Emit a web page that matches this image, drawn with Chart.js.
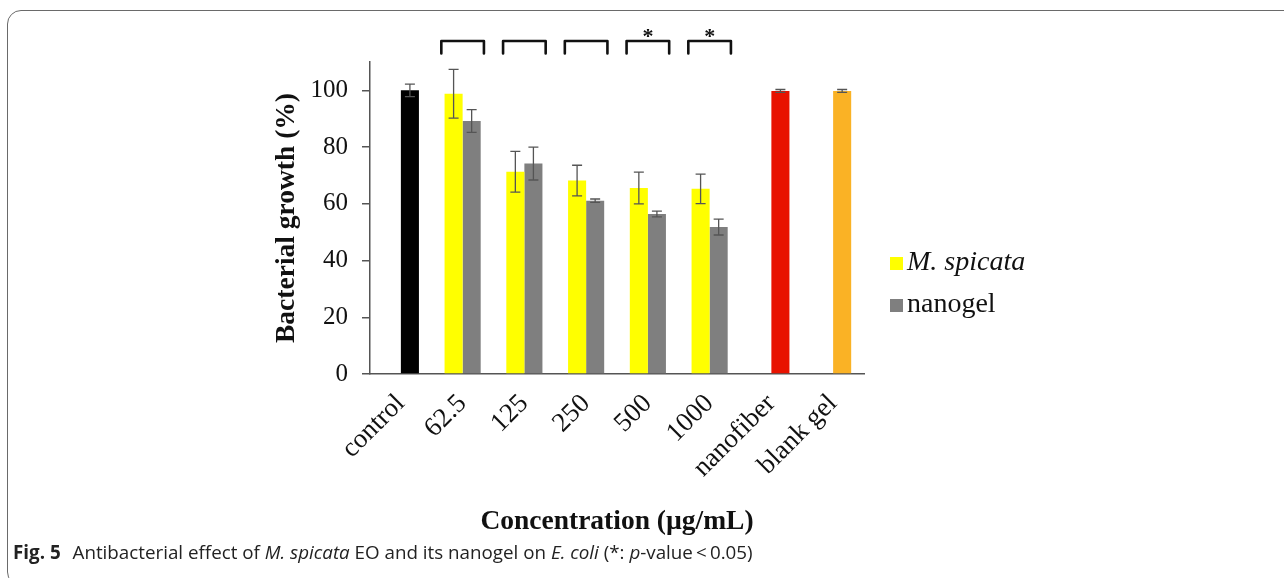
<!DOCTYPE html>
<html>
<head>
<meta charset="utf-8">
<script src="https://cdn.jsdelivr.net/npm/chart.js@4.4.1/dist/chart.umd.min.js"></script>
<style>
  html, body { margin:0; padding:0; background:#fff; }
  #wrap { position:relative; width:1284px; height:578px; overflow:hidden; }
  #frame { position:absolute; left:7px; top:10px; width:1400px; height:576px; border:1.5px solid #6a6a6a; border-radius:14px; box-sizing:border-box; }
  canvas { position:absolute; left:0; top:0; }
  #caption { position:absolute; left:13px; top:539px; font-family:'Open Sans', 'Noto Sans', sans-serif; font-size:18.8px; color:#222; white-space:nowrap; letter-spacing:0px; }
  #caption b { font-weight:700; margin-right:7px; }
</style>
</head>
<body>
<div id="wrap">
  <div id="frame"></div>
  <canvas id="c" width="1284" height="578"></canvas>
  <div id="caption"><b>Fig. 5</b> Antibacterial effect of <i>M. spicata</i> EO and its nanogel on <i>E. coli</i> (*: <i>p</i>-value&thinsp;&lt;&thinsp;0.05)</div>
</div>
<script>
const categories = ['control', '62.5', '125', '250', '500', '1000', 'nanofiber', 'blank gel'];
const spicataValues = [null, 98.8, 71.3, 68.2, 65.6, 65.3, null, null];
const spicataErrors = [null, 8.6, 7.2, 5.4, 5.6, 5.2, null, null];
const nanogelValues = [100, 89.2, 74.2, 61.1, 56.4, 51.8, 99.8, 99.8];
const nanogelErrors = [2.2, 4.0, 5.8, 0.6, 1.0, 2.8, 0.5, 0.5];
const nanogelColors = ['#000000', '#7f7f7f', '#7f7f7f', '#7f7f7f', '#7f7f7f', '#7f7f7f', '#e81200', '#fab225'];
const yTicks = [0, 20, 40, 60, 80, 100];
const bracketCats = [1, 2, 3, 4, 5];
const bracketStars = ['', '', '', '*', '*'];
const bracketTopValue = 117.4;
const bracketLegValue = 113.0;
const starValue = 120.0;

const SERIF = "'Liberation Serif', 'Times New Roman', serif";

const errorBars = {
  id: 'errorBars',
  afterDatasetsDraw(chart) {
    const ctx = chart.ctx, ys = chart.scales.y;
    const errs = [spicataErrors, nanogelErrors];
    chart.data.datasets.forEach((ds, i) => {
      const meta = chart.getDatasetMeta(i);
      meta.data.forEach((bar, j) => {
        const v = ds.data[j];
        if (v == null) return;
        const e = errs[i][j];
        const yt = ys.getPixelForValue(v + e), yb = ys.getPixelForValue(v - e);
        ctx.save();
        ctx.strokeStyle = '#555555';
        ctx.lineWidth = 1.3;
        ctx.beginPath();
        ctx.moveTo(bar.x, yt); ctx.lineTo(bar.x, yb);
        ctx.moveTo(bar.x - 5, yt); ctx.lineTo(bar.x + 5, yt);
        ctx.moveTo(bar.x - 5, yb); ctx.lineTo(bar.x + 5, yb);
        ctx.stroke();
        ctx.restore();
      });
    });
  }
};

const brackets = {
  id: 'brackets',
  afterDraw(chart) {
    const ctx = chart.ctx, xs = chart.scales.x, ys = chart.scales.y;
    const catW = (xs.right - xs.left) / categories.length;
    ctx.save();
    ctx.strokeStyle = '#111';
    ctx.lineWidth = 2.6;
    ctx.lineJoin = 'round';
    ctx.lineCap = 'round';
    bracketCats.forEach((c, k) => {
      const cx = xs.getPixelForValue(c);
      const h = catW * 0.345;
      const yt = ys.getPixelForValue(bracketTopValue);
      const yl = ys.getPixelForValue(bracketLegValue);
      ctx.beginPath();
      ctx.moveTo(cx - h, yl);
      ctx.lineTo(cx - h, yt);
      ctx.lineTo(cx + h, yt);
      ctx.lineTo(cx + h, yl);
      ctx.stroke();
      if (bracketStars[k]) {
        ctx.fillStyle = '#111';
        ctx.font = 'bold 22px ' + SERIF;
        ctx.textAlign = 'center';
        ctx.textBaseline = 'middle';
        ctx.fillText(bracketStars[k], cx, ys.getPixelForValue(starValue) + 4);
      }
    });
    ctx.restore();
  }
};

const customLegend = {
  id: 'customLegend',
  afterDraw(chart) {
    const ctx = chart.ctx, a = chart.chartArea;
    const items = [
      { color: '#ffff00', text: 'M. spicata', italic: true, y: 263 },
      { color: '#7f7f7f', text: 'nanogel', italic: false, y: 305 }
    ];
    ctx.save();
    items.forEach(it => {
      ctx.fillStyle = it.color;
      ctx.fillRect(a.right + 26, it.y - 6, 13, 13);
      ctx.fillStyle = '#111';
      ctx.font = (it.italic ? 'italic ' : '') + '28px ' + SERIF;
      ctx.textAlign = 'left';
      ctx.textBaseline = 'middle';
      ctx.fillText(it.text, a.right + 43, it.y);
    });
    ctx.restore();
  }
};

new Chart(document.getElementById('c'), {
  type: 'bar',
  data: {
    labels: categories,
    datasets: [
      { label: 'M. spicata', data: spicataValues, backgroundColor: '#ffff00', categoryPercentage: 0.585, barPercentage: 1.0 },
      { label: 'nanogel', data: nanogelValues, backgroundColor: nanogelColors, categoryPercentage: 0.585, barPercentage: 1.0 }
    ]
  },
  options: {
    responsive: false,
    animation: false,
    layout: { padding: { left: 268, right: 420, top: 62, bottom: 40 } },
    plugins: { legend: { display: false }, tooltip: { enabled: false } },
    scales: {
      x: {
        afterFit: s => { s.height = 164; },
        grid: { display: false, drawTicks: false },
        border: { display: true, color: '#555', width: 1.5 },
        ticks: { color: '#111', font: { family: SERIF, size: 27 }, minRotation: 45, maxRotation: 45, padding: 14, autoSkip: false },
        title: { display: true, text: 'Concentration (µg/mL)', color: '#111', font: { family: SERIF, size: 27.5, weight: 'bold' }, padding: 0 }
      },
      y: {
        min: 0, max: 110,
        afterFit: s => { s.width = 102; },
        afterBuildTicks: s => { s.ticks = yTicks.map(v => ({ value: v })); },
        grid: { drawOnChartArea: false, drawTicks: true, tickLength: 8, color: '#555', lineWidth: 1.5 },
        border: { display: true, color: '#555', width: 1.5 },
        ticks: { color: '#111', font: { family: SERIF, size: 25 }, padding: 14 },
        title: { display: true, text: 'Bacterial growth (%)', color: '#111', font: { family: SERIF, size: 27.5, weight: 'bold' }, padding: { top: 2, bottom: 0 } }
      }
    }
  },
  plugins: [errorBars, brackets, customLegend]
});
</script>
</body>
</html>
